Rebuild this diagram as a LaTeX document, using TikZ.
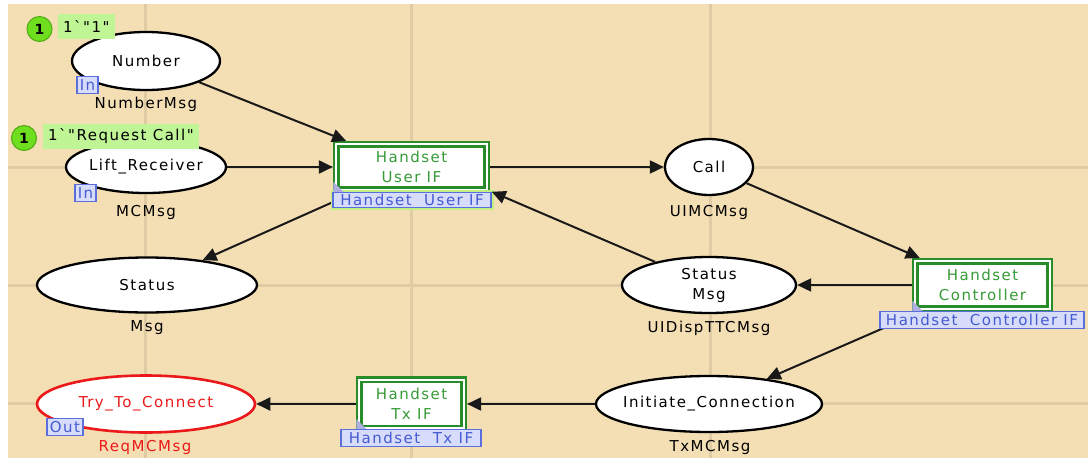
\documentclass[tikz,border=0pt]{standalone}
\usepackage{fontspec}
\newfontfamily\cpnfont[LetterSpace=10]{DejaVu Sans}
\usetikzlibrary{shapes.geometric,arrows.meta}
\definecolor{bg}{RGB}{244,222,180}
\definecolor{gridc}{RGB}{224,204,164}
\definecolor{trgreen}{RGB}{40,140,40}
\definecolor{trtext}{RGB}{55,155,55}
\definecolor{tagfill}{RGB}{214,220,250}
\definecolor{tagdraw}{RGB}{90,110,220}
\definecolor{tagtext}{RGB}{70,90,210}
\definecolor{tokfill}{RGB}{110,222,30}
\definecolor{tokdraw}{RGB}{80,170,20}
\definecolor{toklab}{RGB}{192,245,150}
\definecolor{arcc}{RGB}{25,25,25}
\definecolor{redp}{RGB}{235,25,25}
\definecolor{glow}{RGB}{195,240,130}
\definecolor{tri}{RGB}{175,175,225}
\begin{document}
\begin{tikzpicture}[x=1pt,y=-1pt,
  txt/.style={font=\cpnfont\fontsize{15}{20}\selectfont},
  ptxt/.style={txt, inner sep=0pt, align=center},
  place/.style={ellipse, draw=black, line width=2.3pt, fill=white, inner sep=0pt},
  redplace/.style={place, draw=redp, line width=2.6pt},
  trans/.style={rectangle, draw=trgreen, line width=2.2pt, double=white, double distance=2.3pt,
     fill=white, inner sep=0pt, outer sep=3.35pt, txt, text=trtext, align=center},
  tlab/.style={rectangle, draw=tagdraw, line width=1.5pt, fill=tagfill, inner sep=0pt, txt, text=tagtext},
  tagbox/.style={rectangle, draw=tagdraw, line width=1.5pt, fill=tagfill, inner xsep=3pt, inner ysep=0pt,
     minimum height=17pt, txt, text=tagtext, anchor=west},
  token/.style={circle, fill=tokfill, draw=tokdraw, line width=1pt, minimum size=25pt, inner sep=0pt,
     font=\cpnfont\bfseries\fontsize{14}{16}\selectfont},
  toklabel/.style={rectangle, fill=toklab, inner xsep=5pt, inner ysep=0pt, minimum height=25pt, anchor=west, txt},
  gridline/.style={draw=gridc, line width=3pt},
  arc/.style={draw=arcc, line width=2pt, -{Triangle[length=14pt,width=13pt]}},
  hier/.style={fill=tri}
]
\useasboundingbox (0,0) rectangle (1088,458);
\fill[white] (0,0) rectangle (1088,458);
\fill[bg] (8,4) rectangle (1088,458);
\foreach \x in {145,411,710} \draw[gridline] (\x,4) -- (\x,458);
\foreach \y in {167,285,403} \draw[gridline] (8,\y) -- (1088,\y);

% places
\node[place, minimum width=148pt, minimum height=58pt, label={[ptxt]center:Number}] (num) at (146,61) {};
\node[place, minimum width=160pt, minimum height=52pt, label={[ptxt]center:Lift\_Receiver}] (lift) at (146,167) {};
\node[place, minimum width=220pt, minimum height=55pt, label={[ptxt]center:Status}] (status) at (147,285) {};
\node[redplace, minimum width=218pt, minimum height=57pt, label={[ptxt,text=redp]center:Try\_To\_Connect}] (try) at (146,404) {};
\node[place, minimum width=88pt, minimum height=56pt, label={[ptxt]center:Call}] (call) at (709,167) {};
\node[place, minimum width=174pt, minimum height=56pt, label={[ptxt]center:Status\\Msg}] (smsg) at (709,285) {};
\node[place, minimum width=226pt, minimum height=56pt, label={[ptxt]center:Initiate\_Connection}] (init) at (709,404) {};

% colour sets
\node[ptxt] (numT) at (146,104) {NumberMsg};
\node[ptxt] (liftT) at (146,212) {MCMsg};
\node[ptxt] (statusT) at (147,328) {Msg};
\node[ptxt, text=redp] (tryT) at (145,447) {ReqMCMsg};
\node[ptxt] (callT) at (709,212) {UIMCMsg};
\node[ptxt] (smsgT) at (709,328) {UIDispTTCMsg};
\node[ptxt] (initT) at (710,447) {TxMCMsg};

% transitions
\node[trans, minimum width=150.5pt, minimum height=45.5pt] (uif) at (411.5,167) {Handset\\User IF};
\node[trans, minimum width=134.5pt, minimum height=47.5pt] (ctrl) at (982.5,285) {Handset\\Controller};
\node[trans, minimum width=104.5pt, minimum height=48.5pt] (txif) at (411.5,404) {Handset\\Tx IF};

% arcs under the labels
\draw[arc] (num) -- (uif);
\draw[arc] (lift) -- (uif);
\draw[arc] (uif) -- (call);
\draw[arc] (uif) -- (status);
\draw[arc] (call) -- (ctrl);
\draw[arc] (ctrl) -- (smsg);
\draw[arc] (ctrl) -- (init);
\draw[arc] (init) -- (txif);
\draw[arc] (txif) -- (try);

% substitution labels
\node[tlab, minimum width=158pt, minimum height=15pt, preaction={draw=glow, line width=5pt}] (uiflab) at (412,200) {Handset~~User IF};
\node[tlab, minimum width=204pt, minimum height=17pt] (ctrllab) at (982,320) {Handset~~Controller IF};
\node[tlab, minimum width=140pt, minimum height=17pt] (txiflab) at (411,438) {Handset~~Tx IF};
\fill[hier] ([shift={(1,0)}]uiflab.north west) -- ++(0,-10) -- ++(10,10) -- cycle;
\fill[hier] ([shift={(33,0)}]ctrllab.north west) -- ++(0,-10) -- ++(10,10) -- cycle;
\fill[hier] ([shift={(16,0)}]txiflab.north west) -- ++(0,-10) -- ++(10,10) -- cycle;

\draw[arc] (smsg) -- (uiflab.north east);

% port tags
\node[tagbox] (numIn) at (76,85) {In};
\node[tagbox] (liftIn) at (74,193) {In};
\node[tagbox] (tryOut) at (46,427) {Out};

% tokens
\node[toklabel] (numTokL) at (58,26.5) {1\symbol{96}"1"};
\node[token] (numTok) at (39.5,29) {1};
\node[toklabel] (liftTokL) at (43,136.5) {1\symbol{96}"Request Call"};
\node[token] (liftTok) at (24,138) {1};
\end{tikzpicture}
\end{document}
